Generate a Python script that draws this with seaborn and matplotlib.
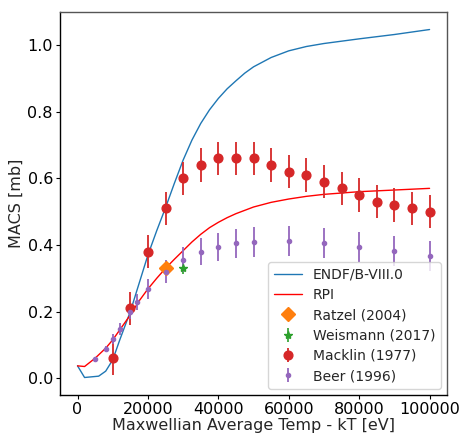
import numpy as np
import pandas as pd
import matplotlib
matplotlib.use("Agg")
import matplotlib.pyplot as plt
import seaborn as sns

# ENDF/B-VIII.0 curve
endf_kt = [0, 2000, 6000, 8000, 10000, 12000, 15000, 17500, 20000, 22500, 25000,
           27500, 30000, 32500, 35000, 37500, 40000, 42500, 45000, 47500, 50000,
           55000, 60000, 65000, 70000, 80000, 90000, 100000]
endf_macs = [0.037, 0.002, 0.006, 0.021, 0.055, 0.115, 0.200, 0.285, 0.370, 0.443, 0.512,
             0.585, 0.655, 0.715, 0.765, 0.806, 0.840, 0.869, 0.893, 0.916, 0.935,
             0.963, 0.983, 0.996, 1.005, 1.019, 1.032, 1.047]

# RPI curve
rpi_kt = [0, 2000, 5000, 8000, 10000, 12000, 15000, 17500, 20000, 22500, 25000, 27500,
          30000, 32500, 35000, 37500, 40000, 42500, 45000, 50000, 55000, 60000, 65000,
          70000, 75000, 80000, 90000, 100000]
rpi_macs = [0.037, 0.035, 0.060, 0.090, 0.115, 0.145, 0.190, 0.232, 0.268, 0.300, 0.330, 0.357,
            0.383, 0.409, 0.432, 0.452, 0.468, 0.482, 0.494, 0.514, 0.528, 0.538, 0.546,
            0.552, 0.556, 0.560, 0.565, 0.570]

# Ratzel (2004)
ratzel_kt = [25000]
ratzel_macs = [0.330]

# Weismann (2017)
weis_kt = [30000]
weis_macs = [0.330]
weis_err = [0.018]

# Macklin (1977)
mack_kt = [10000, 15000, 20000, 25000, 30000, 35000, 40000, 45000, 50000, 55000,
           60000, 65000, 70000, 75000, 80000, 85000, 90000, 95000, 100000]
mack_macs = [0.06, 0.21, 0.38, 0.51, 0.60, 0.64, 0.66, 0.66, 0.66, 0.64,
             0.62, 0.61, 0.59, 0.57, 0.55, 0.53, 0.52, 0.51, 0.50]
mack_err = [0.05] * 19

# Beer (1996)
beer_kt = [5000, 8000, 10000, 12000, 15000, 17000, 20000, 25000, 30000, 35000,
           40000, 45000, 50000, 60000, 70000, 80000, 90000, 100000]
beer_macs = [0.058, 0.088, 0.118, 0.149, 0.199, 0.229, 0.268, 0.320, 0.356, 0.380,
             0.394, 0.405, 0.410, 0.412, 0.405, 0.395, 0.381, 0.366]
beer_err = [0.006, 0.010, 0.015, 0.018, 0.022, 0.025, 0.030, 0.034, 0.038, 0.040,
            0.043, 0.043, 0.045, 0.045, 0.045, 0.045, 0.045, 0.045]

sns.set_style("white")
plt.rcParams['font.family'] = ['DejaVu Sans']

pal = sns.color_palette("tab10")

fig, ax = plt.subplots(figsize=(4.61, 4.33), dpi=100)
fig.subplots_adjust(left=0.130, right=0.970, top=0.972, bottom=0.088)

sns.lineplot(x=endf_kt, y=endf_macs, ax=ax, color=pal[0], lw=1.0, label="ENDF/B-VIII.0")
sns.lineplot(x=rpi_kt, y=rpi_macs, ax=ax, color="red", lw=1.0, label="RPI")
ax.errorbar(ratzel_kt, ratzel_macs, fmt="D", color=pal[1], ms=7, label="Ratzel (2004)")
ax.errorbar(weis_kt, weis_macs, yerr=weis_err, fmt="*", color=pal[2], ms=6, elinewidth=1.2,
            label="Weismann (2017)")
ax.errorbar(mack_kt, mack_macs, yerr=mack_err, fmt="o", color=pal[3], ms=6.3, elinewidth=1.3,
            label="Macklin (1977)")
ax.errorbar(beer_kt, beer_macs, yerr=beer_err, fmt="o", color=pal[4], ms=3, elinewidth=1.3,
            label="Beer (1996)")

ax.set_xlabel("Maxwellian Average Temp - kT [eV]", fontsize=11.5, labelpad=1)
ax.set_ylabel("MACS [mb]", fontsize=11.5, labelpad=3)
ax.set_xticks([0, 20000, 40000, 60000, 80000, 100000])
ax.set_yticks([0.0, 0.2, 0.4, 0.6, 0.8, 1.0])
ax.tick_params(axis="both", labelsize=11.5, length=3, width=0.8, direction="out",
               left=True, bottom=True, pad=2, colors="black")

for s in ["left", "bottom"]:
    ax.spines[s].set_color("black")
    ax.spines[s].set_linewidth(1.0)
for s in ["top", "right"]:
    ax.spines[s].set_color("#555555")
    ax.spines[s].set_linewidth(1.0)

ax.legend(loc="lower right", fontsize=10, frameon=True, labelspacing=0.45,
          handlelength=2.0, borderaxespad=0.45)

fig.savefig("out.png", dpi=100)
